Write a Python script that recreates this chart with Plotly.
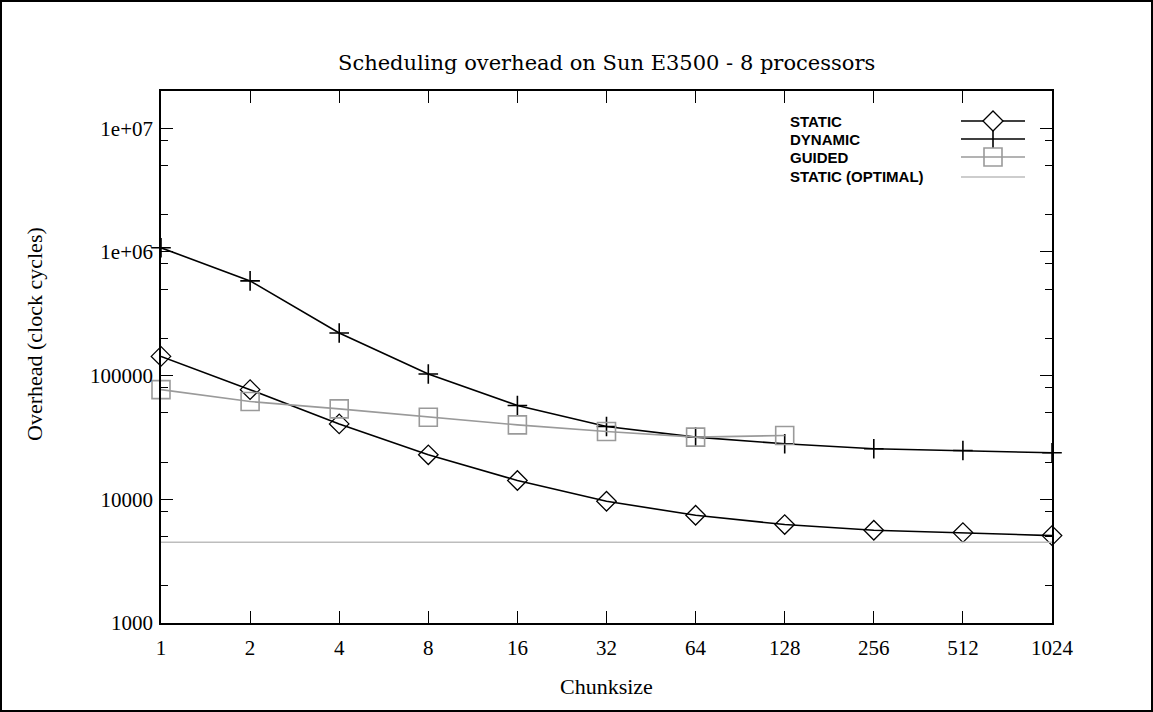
import plotly.graph_objects as go
import math

W, H = 1153, 712

# ---- data ----
chunks = [1, 2, 4, 8, 16, 32, 64, 128, 256, 512, 1024]
chunk_labels = ["1", "2", "4", "8", "16", "32", "64", "128", "256", "512", "1024"]
static_vals = [143000, 77000, 40700, 22900, 14200, 9640, 7430, 6250, 5620, 5380, 5090]
dynamic_vals = [1080000, 583000, 221000, 103000, 57300, 38800, 31800, 28100, 25600, 24800, 23800]
guided_chunks = [1, 2, 4, 8, 16, 32, 64, 128]
guided_vals = [77000, 61700, 53800, 46100, 40000, 35300, 31800, 32800]
static_optimal = 4500
ytick_vals = [1000, 10000, 100000, 1000000, 10000000]
ytick_text = ["1000", "10000", "100000", "1e+06", "1e+07"]
series_names = ["STATIC", "DYNAMIC", "GUIDED", "STATIC (OPTIMAL)"]

# ---- layout geometry (pixels) ----
PL, PR, PT, PB = 161, 1052, 91, 623

def px(x):
    return x / W

def py(y):
    return 1 - y / H

BLACK = "#000000"
GRAY = "#9a9a9a"
LGRAY = "#bdbdbd"

fig = go.Figure()

fig.add_trace(go.Scatter(
    x=chunks, y=static_vals, mode="lines+markers", name=series_names[0],
    line=dict(color=BLACK, width=1.6),
    marker=dict(symbol="diamond-open", size=15, color=BLACK, line=dict(width=1.3, color=BLACK)),
    cliponaxis=False, showlegend=False))
fig.add_trace(go.Scatter(
    x=chunks, y=dynamic_vals, mode="lines+markers", name=series_names[1],
    line=dict(color=BLACK, width=1.6),
    marker=dict(symbol="cross-thin-open", size=14, color=BLACK, line=dict(width=1.6, color=BLACK)),
    cliponaxis=False, showlegend=False))
fig.add_trace(go.Scatter(
    x=guided_chunks, y=guided_vals, mode="lines+markers", name=series_names[2],
    line=dict(color=GRAY, width=1.6),
    marker=dict(symbol="square-open", size=18, color=GRAY, line=dict(width=1.6, color=GRAY)),
    cliponaxis=False, showlegend=False))
fig.add_trace(go.Scatter(
    x=[chunks[0], chunks[-1]], y=[static_optimal, static_optimal], mode="lines",
    name=series_names[3], line=dict(color=LGRAY, width=1.6), showlegend=False))

serif = "Liberation Serif"

minor_vals = []
for e in range(3, 8):
    for m in (2, 5, 8):
        minor_vals.append(m * 10 ** e)

fig.update_layout(
    width=W, height=H, autosize=False,
    margin=dict(l=0, r=0, t=0, b=0, pad=0, autoexpand=False),
    paper_bgcolor="white", plot_bgcolor="white",
    xaxis=dict(
        type="log", domain=[px(PL), px(PR)], automargin=False,
        range=[0, math.log10(1024)],
        tickmode="array", tickvals=chunks, ticktext=chunk_labels,
        ticks="inside", ticklen=12, tickwidth=1.3, tickcolor=BLACK,
        showline=True, linecolor=BLACK, linewidth=1.6, mirror="ticks",
        showgrid=False, zeroline=False,
        tickfont=dict(family=serif, size=21, color=BLACK),
        ticklabelstandoff=5,
    ),
    yaxis=dict(
        type="log", domain=[py(PB), py(PT)], automargin=False,
        range=[3, math.log10(2e7)],
        tickmode="array", tickvals=ytick_vals, ticktext=ytick_text,
        ticks="inside", ticklen=12, tickwidth=1.3, tickcolor=BLACK,
        showline=True, linecolor=BLACK, linewidth=1.6, mirror="ticks",
        showgrid=False, zeroline=False,
        tickfont=dict(family=serif, size=21, color=BLACK),
        ticklabelstandoff=2,
        minor=dict(tickmode="array", tickvals=minor_vals, ticks="inside",
                   ticklen=7, tickwidth=1.3, tickcolor=BLACK, showgrid=False),
    ),
    showlegend=False,
)

annotations = [
    dict(text="Scheduling overhead on Sun E3500 - 8 processors",
         x=px((PL + PR) / 2), y=py(63), xref="paper", yref="paper",
         xanchor="center", yanchor="middle", showarrow=False,
         font=dict(family="DejaVu Serif", size=21, color=BLACK)),
    dict(text="Chunksize", x=px((PL + PR) / 2), y=py(686), xref="paper", yref="paper",
         xanchor="center", yanchor="middle", showarrow=False,
         font=dict(family=serif, size=22, color=BLACK)),
    dict(text="Overhead (clock cycles)", x=px(34), y=py(334), xref="paper", yref="paper",
         xanchor="center", yanchor="middle", showarrow=False, textangle=-90,
         font=dict(family=serif, size=22, color=BLACK)),
]

# manual legend (text left, sample right), gnuplot style
leg_rows = [121, 139, 157, 177]
leg_colors = [BLACK, BLACK, GRAY, LGRAY]
shapes = []
LX0, LX1, LXM = 961, 1025, 993
for name, ry, col in zip(series_names, leg_rows, leg_colors):
    annotations.append(dict(text="<b>%s</b>" % name, x=px(788), y=py(ry), xref="paper", yref="paper",
                            xanchor="left", yanchor="middle", showarrow=False,
                            font=dict(family="Liberation Sans", size=15, color=BLACK)))
    shapes.append(dict(type="line", xref="paper", yref="paper",
                       x0=px(LX0), x1=px(LX1), y0=py(ry), y1=py(ry),
                       line=dict(color=col, width=1.6)))
d = 10
shapes.append(dict(type="path", xref="paper", yref="paper",
                   path="M %f,%f L %f,%f L %f,%f L %f,%f Z" % (
                       px(LXM - d), py(leg_rows[0]), px(LXM), py(leg_rows[0] - d),
                       px(LXM + d), py(leg_rows[0]), px(LXM), py(leg_rows[0] + d)),
                   line=dict(color=BLACK, width=1.3), fillcolor="white"))
c = 9
shapes.append(dict(type="line", xref="paper", yref="paper",
                   x0=px(LXM), x1=px(LXM), y0=py(leg_rows[1] - c), y1=py(leg_rows[1] + c),
                   line=dict(color=BLACK, width=1.6)))
s = 9
shapes.append(dict(type="rect", xref="paper", yref="paper",
                   x0=px(LXM - s), x1=px(LXM + s), y0=py(leg_rows[2] - s), y1=py(leg_rows[2] + s),
                   line=dict(color=GRAY, width=1.6), fillcolor="rgba(0,0,0,0)"))
# outer border of the picture
shapes.append(dict(type="rect", xref="paper", yref="paper",
                   x0=0, x1=1, y0=0, y1=1,
                   line=dict(color=BLACK, width=4)))

fig.update_layout(annotations=annotations, shapes=shapes)

fig.write_html("out.html", config={"displayModeBar": False})
